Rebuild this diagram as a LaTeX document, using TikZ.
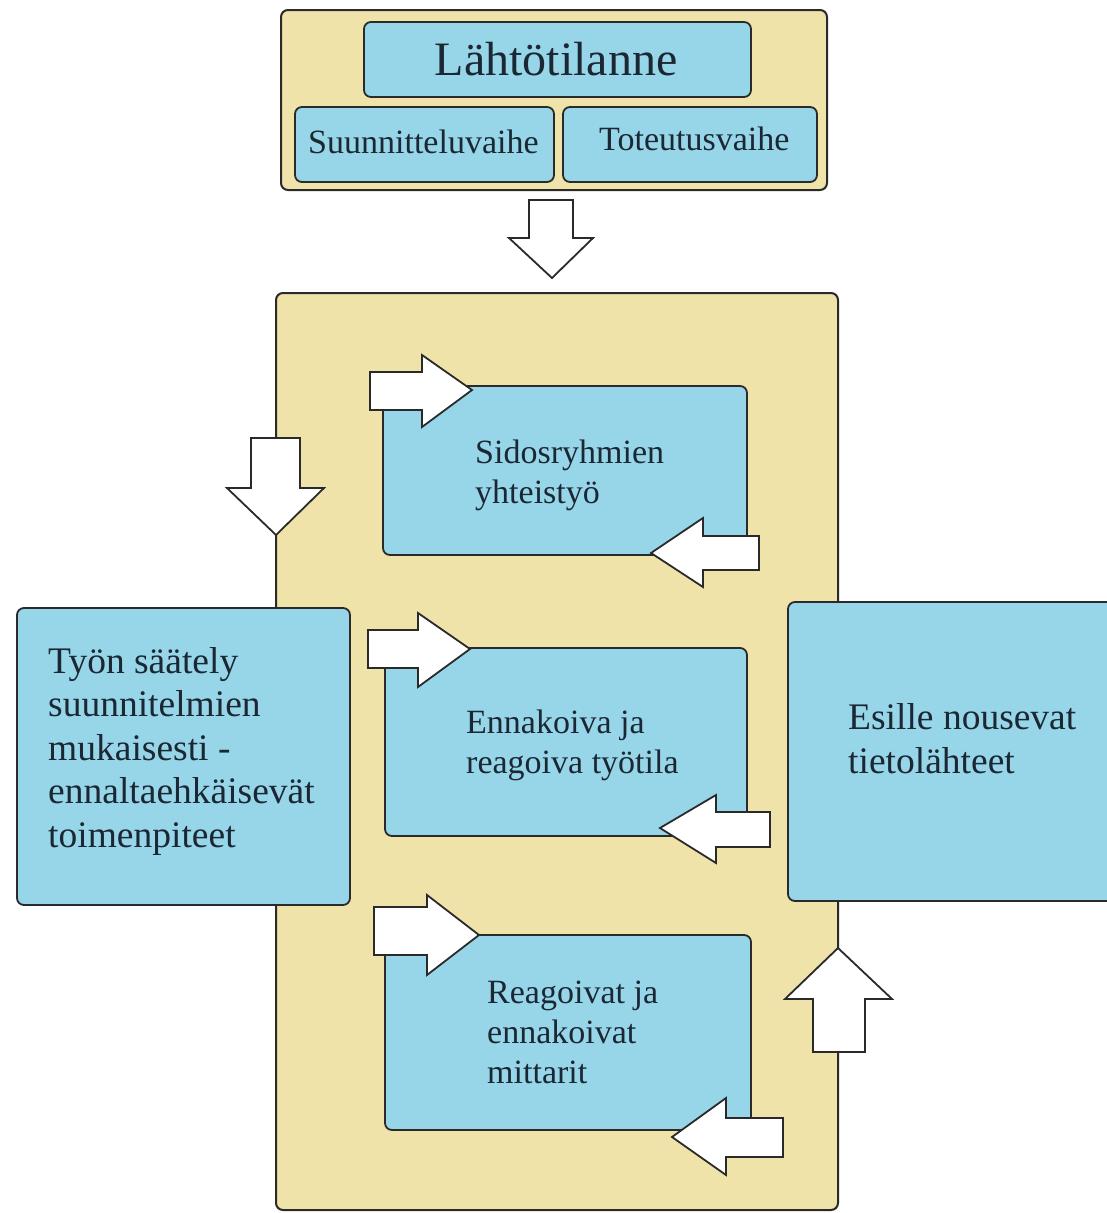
\documentclass[tikz,border=0pt]{standalone}
\usepackage{fontspec}
\setmainfont{Liberation Serif}
\definecolor{beige}{HTML}{F0E3AA}
\definecolor{skyblue}{HTML}{97D6E9}
\definecolor{txt}{HTML}{1B2733}
\definecolor{edge}{HTML}{2A2A2A}
\begin{document}
\begin{tikzpicture}[x=1pt,y=-1pt,
  panel/.style={draw=edge,line width=2pt,fill=beige,rounded corners=7pt},
  cell/.style={draw=edge,line width=1.8pt,fill=skyblue,rounded corners=7pt},
  blockarrow/.style={draw=edge,line width=1.8pt,fill=white,line join=miter},
  lbl/.style={text=txt,inner sep=0pt,anchor=base west,align=left},
  big/.style={font=\fontsize{48}{52}\selectfont},
  mid/.style={font=\fontsize{34}{38}\selectfont},
  inner/.style={font=\fontsize{34}{40}\selectfont},
  side/.style={font=\fontsize{37.5}{43.5}\selectfont}]
\useasboundingbox (0,0) rectangle (1106,1213);
\fill[white] (0,0) rectangle (1106,1213);

% top panel
\draw[panel] (281,10) rectangle (827,190);
\draw[cell] (364,22) rectangle (751,97);
\draw[cell] (295,107) rectangle (554,182);
\draw[cell] (563,107) rectangle (817,182);
\node[lbl,big,anchor=base] (start) at (556,75) {Lähtötilanne};
\node[lbl,mid] (plan) at (308,153) {Suunnitteluvaihe};
\node[lbl,mid] (exec) at (599,150) {Toteutusvaihe};

% arrow down between panels
\draw[blockarrow] (529,200) -- (573,200) -- (573,238) -- (593,238) -- (552,278)
  -- (509,238) -- (529,238) -- cycle;

% main panel
\draw[panel] (276,293) rectangle (838,1210);

% inner boxes
\draw[cell] (383,386) rectangle (747,555);
\draw[cell] (385,648) rectangle (747,836);
\draw[cell] (385,935) rectangle (751,1130);
% base anchor of a multi-line node = baseline of its last line
\node[lbl,inner] (coop) at (475,503) {Sidosryhmien\\yhteistyö};
\node[lbl,inner] (work) at (466,773) {Ennakoiva ja\\reagoiva työtila};
\node[lbl,inner] (meas) at (487,1083) {Reagoivat ja\\ennakoivat\\mittarit};

% side boxes
\draw[cell] (17,608) rectangle (350,905);
\draw[cell] (788,602) rectangle (1120,901);
\node[lbl,side] (ctrl) at (48,847) {Työn säätely\\suunnitelmien\\mukaisesti -\\ennaltaehkäisevät\\toimenpiteet};
\node[lbl,side] (info) at (848,773) {Esille nousevat\\tietolähteet};

% arrows box 1
\draw[blockarrow] (370,372) -- (422,372) -- (422,355) -- (472,390) -- (422,427)
  -- (422,410) -- (370,410) -- cycle;
\draw[blockarrow] (759,536) -- (703,536) -- (703,518) -- (651,553) -- (703,587)
  -- (703,570) -- (759,570) -- cycle;
% arrows box 2
\draw[blockarrow] (368,630) -- (418,630) -- (418,613) -- (470,649) -- (418,687)
  -- (418,668) -- (368,668) -- cycle;
\draw[blockarrow] (770,812) -- (716,812) -- (716,795) -- (660,828) -- (716,863)
  -- (716,847) -- (770,847) -- cycle;
% arrows box 3
\draw[blockarrow] (374,907) -- (427,907) -- (427,895) -- (479,935) -- (427,975)
  -- (427,955) -- (374,955) -- cycle;
\draw[blockarrow] (783,1118) -- (726,1118) -- (726,1098) -- (672,1137) -- (726,1175)
  -- (726,1157) -- (783,1157) -- cycle;

% left down arrow
\draw[blockarrow] (251,438) -- (300,438) -- (300,488) -- (324,488) -- (276,535)
  -- (227,488) -- (251,488) -- cycle;
% right up arrow
\draw[blockarrow] (813,1052) -- (865,1052) -- (865,999) -- (892,999) -- (838,948)
  -- (785,999) -- (813,999) -- cycle;
\end{tikzpicture}
\end{document}
